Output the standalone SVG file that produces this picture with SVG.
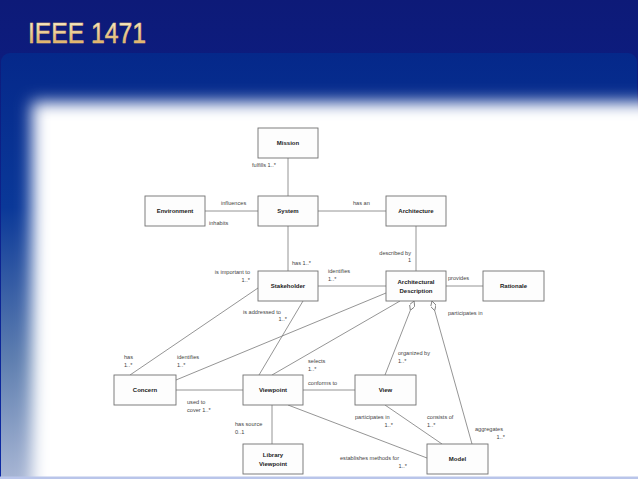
<svg xmlns="http://www.w3.org/2000/svg" width="638" height="479" viewBox="0 0 638 479">
<defs>
<linearGradient id="bgTop" x1="0" y1="0" x2="0" y2="1">
<stop offset="0" stop-color="#0d1a78"/>
<stop offset="1" stop-color="#0c2aa4"/>
</linearGradient>
<linearGradient id="panelG" x1="0" y1="0" x2="0" y2="1">
<stop offset="0" stop-color="#05288a"/>
<stop offset="0.35" stop-color="#0a3898"/>
<stop offset="0.7" stop-color="#5f7fb0"/>
<stop offset="1" stop-color="#b0bcd8"/>
</linearGradient>
<linearGradient id="gold" x1="0" y1="0" x2="0" y2="1">
<stop offset="0" stop-color="#fffbe6"/>
<stop offset="1" stop-color="#d9a24c"/>
</linearGradient>
<filter id="soft" x="-0.2" y="-0.2" width="1.4" height="1.4">
<feGaussianBlur stdDeviation="8"/>
</filter>
<marker id="diamond" viewBox="0 0 10 5" refX="0" refY="2.5" markerUnits="userSpaceOnUse" markerWidth="10" markerHeight="5.5" orient="auto" preserveAspectRatio="none">
<path d="M0,2.5 L5,0 L10,2.5 L5,5 Z" fill="#ffffff" stroke="#777" stroke-width="0.8"/>
</marker>
<style>
.box rect{fill:#fdfdfd;stroke:#707070;stroke-width:0.9}
.box text{font-family:"Liberation Sans",Arial,sans-serif;font-size:6px;font-weight:bold;fill:#222;text-anchor:middle}
.conn line{stroke:#7a7a7a;stroke-width:0.8;fill:none}
.lbl{font-family:"Liberation Sans",Arial,sans-serif;font-size:5.6px;fill:#444}
.end{text-anchor:end}
</style>
</defs>

<rect x="0" y="0" width="638" height="479" fill="url(#bgTop)"/>
<rect x="1" y="53" width="636" height="440" rx="9" fill="url(#panelG)"/>
<rect x="32" y="102" width="640" height="420" fill="#ffffff" filter="url(#soft)"/>
<rect x="0" y="476.5" width="638" height="2.5" fill="#b9c5ea"/>
<text x="28" y="43" font-family="'Liberation Sans Narrow','Liberation Sans',Arial,sans-serif" font-size="30" fill="url(#gold)" stroke="#e8c47a" stroke-width="0.6" textLength="118" lengthAdjust="spacingAndGlyphs">IEEE 1471</text>

<g id="connectors" class="conn">
<line x1="288" y1="158" x2="288" y2="196"/>
<line x1="205" y1="211" x2="258" y2="211"/>
<line x1="318" y1="211" x2="386" y2="211"/>
<line x1="288" y1="226" x2="288" y2="271"/>
<line x1="416" y1="226" x2="416" y2="271"/>
<line x1="318" y1="286" x2="386" y2="286"/>
<line x1="446" y1="286" x2="483" y2="286"/>
<line x1="258" y1="288" x2="130" y2="375"/>
<line x1="303" y1="301" x2="259" y2="375"/>
<line x1="386" y1="293" x2="176" y2="380"/>
<line x1="400" y1="301" x2="272" y2="375"/>
<line x1="414" y1="301" x2="385" y2="375" marker-start="url(#diamond)"/>
<line x1="432" y1="301" x2="472" y2="444" marker-start="url(#diamond)"/>
<line x1="176" y1="390" x2="243" y2="390"/>
<line x1="303" y1="390" x2="355" y2="390"/>
<line x1="272" y1="405" x2="272" y2="444"/>
<line x1="288" y1="405" x2="427" y2="458"/>
<line x1="385" y1="405" x2="442" y2="444"/>
</g>

<g id="mission" class="box"><rect x="258" y="128" width="60" height="30"/><text x="288" y="145">Mission</text></g>
<g id="system" class="box"><rect x="258" y="196" width="60" height="30"/><text x="288" y="213">System</text></g>
<g id="environment" class="box"><rect x="145" y="196" width="60" height="30"/><text x="175" y="213">Environment</text></g>
<g id="architecture" class="box"><rect x="386" y="196" width="60" height="30"/><text x="416" y="213">Architecture</text></g>
<g id="stakeholder" class="box"><rect x="258" y="271" width="60" height="30"/><text x="288" y="288">Stakeholder</text></g>
<g id="archdesc" class="box"><rect x="386" y="271" width="60" height="30"/><text x="416" y="284">Architectural</text><text x="416" y="293">Description</text></g>
<g id="rationale" class="box"><rect x="483" y="271" width="61" height="30"/><text x="513.5" y="288">Rationale</text></g>
<g id="concern" class="box"><rect x="114" y="375" width="62" height="30"/><text x="145" y="392">Concern</text></g>
<g id="viewpoint" class="box"><rect x="243" y="375" width="60" height="30"/><text x="273" y="392">Viewpoint</text></g>
<g id="view" class="box"><rect x="355" y="375" width="61" height="30"/><text x="385.5" y="392">View</text></g>
<g id="libraryviewpoint" class="box"><rect x="243" y="444" width="60" height="30"/><text x="273" y="457">Library</text><text x="273" y="466">Viewpoint</text></g>
<g id="model" class="box"><rect x="427" y="444" width="61" height="30"/><text x="457.5" y="461">Model</text></g>

<g id="labels">
<text class="lbl" x="252" y="167">fulfills 1..*</text>
<text class="lbl" x="221" y="205">influences</text>
<text class="lbl" x="209" y="225">inhabits</text>
<text class="lbl" x="353" y="205">has an</text>
<text class="lbl" x="292" y="265">has 1..*</text>
<text class="lbl end" x="411" y="255">described by</text>
<text class="lbl end" x="411" y="262">1</text>
<text class="lbl" x="328" y="273">identifies</text>
<text class="lbl" x="328" y="281">1..*</text>
<text class="lbl" x="448" y="280">provides</text>
<text class="lbl" x="448" y="315">participates in</text>
<text class="lbl end" x="250" y="274">is important to</text>
<text class="lbl end" x="250" y="282">1..*</text>
<text class="lbl" x="243" y="314">is addressed to</text>
<text class="lbl end" x="287" y="321">1..*</text>
<text class="lbl" x="124" y="359">has</text>
<text class="lbl" x="124" y="367">1..*</text>
<text class="lbl" x="177" y="359">identifies</text>
<text class="lbl" x="177" y="367">1..*</text>
<text class="lbl" x="308" y="363">selects</text>
<text class="lbl" x="308" y="371">1..*</text>
<text class="lbl" x="398" y="355">organized by</text>
<text class="lbl" x="398" y="363">1..*</text>
<text class="lbl" x="308" y="385">conforms to</text>
<text class="lbl" x="187" y="404">used to</text>
<text class="lbl" x="187" y="412">cover 1..*</text>
<text class="lbl" x="235" y="426">has source</text>
<text class="lbl" x="235" y="434">0..1</text>
<text class="lbl" x="355" y="419">participates in</text>
<text class="lbl end" x="393" y="427">1..*</text>
<text class="lbl" x="427" y="419">consists of</text>
<text class="lbl" x="427" y="427">1..*</text>
<text class="lbl" x="475" y="431">aggregates</text>
<text class="lbl end" x="505" y="439">1..*</text>
<text class="lbl" x="340" y="460">establishes methods for</text>
<text class="lbl end" x="407" y="468">1..*</text>
</g>
</svg>
